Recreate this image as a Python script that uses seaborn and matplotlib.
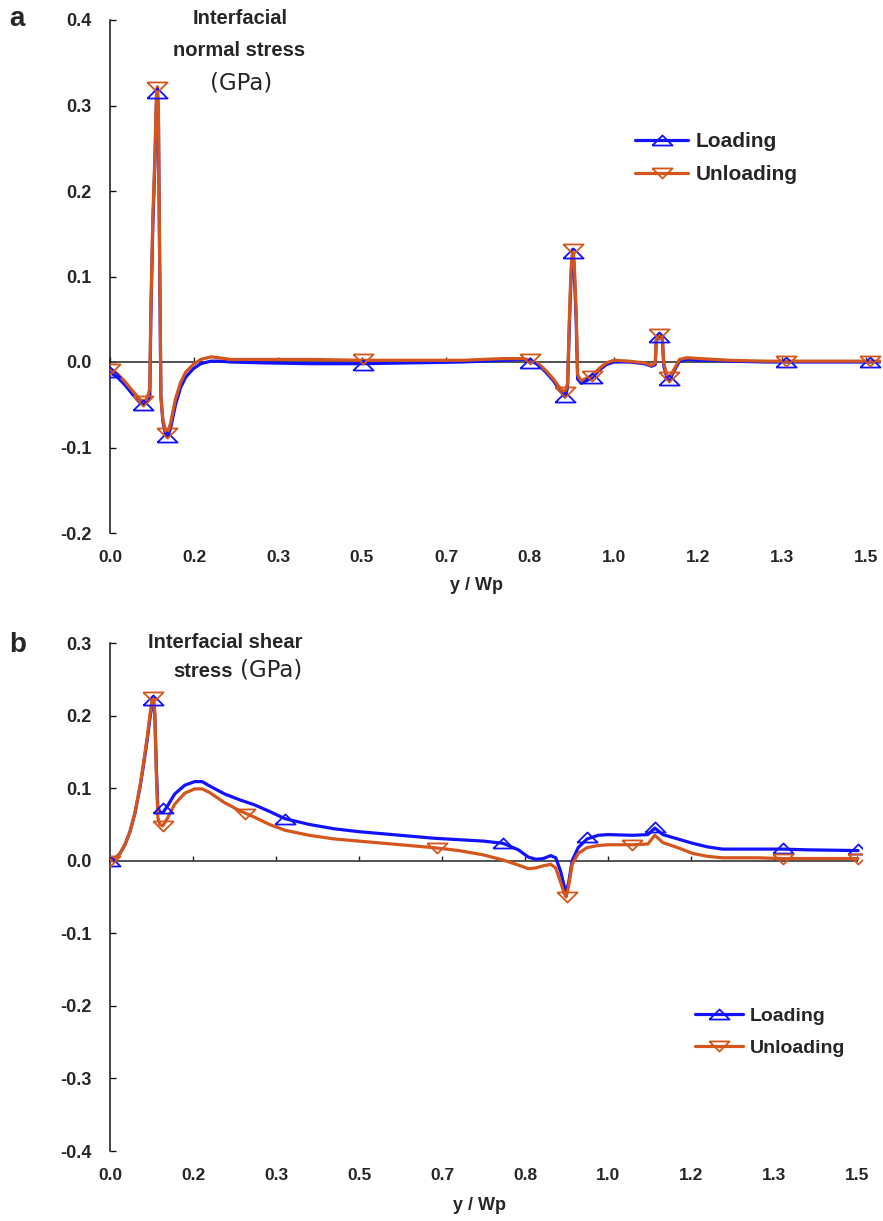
import matplotlib
matplotlib.use("Agg")
import matplotlib.pyplot as plt
import seaborn as sns
from matplotlib.lines import Line2D

# ---------------- Panel a: interfacial normal stress ----------------
a_x = [0.000, 0.015, 0.030, 0.045, 0.060, 0.066, 0.072, 0.077, 0.079, 0.081,
       0.085, 0.089, 0.092, 0.094, 0.096, 0.098, 0.101, 0.105, 0.110, 0.114,
       0.120, 0.130, 0.140, 0.150, 0.165, 0.180, 0.200, 0.215, 0.240, 0.300,
       0.400, 0.500, 0.600, 0.700, 0.780, 0.820, 0.835, 0.850, 0.865, 0.880,
       0.895, 0.903, 0.908, 0.912, 0.915, 0.918, 0.921, 0.925, 0.928, 0.935,
       0.945, 0.956, 0.970, 0.985, 1.000, 1.030, 1.060, 1.075, 1.082, 1.084,
       1.090, 1.096, 1.099, 1.105, 1.110, 1.120, 1.130, 1.145, 1.170, 1.200,
       1.230, 1.300, 1.400, 1.510, 1.528]
a_load = [-0.012, -0.018, -0.027, -0.038, -0.048, -0.050, -0.048, -0.044, -0.040, 0.050,
          0.160, 0.230, 0.300, 0.315, 0.290, 0.150, -0.040, -0.070, -0.084, -0.088,
          -0.078, -0.050, -0.030, -0.018, -0.008, -0.002, 0.001, 0.001, 0.000, -0.001,
          -0.002, -0.002, -0.001, 0.000, 0.002, 0.003, 0.001, -0.003, -0.012, -0.022,
          -0.035, -0.041, -0.030, 0.050, 0.100, 0.127, 0.110, 0.050, -0.020, -0.025,
          -0.022, -0.019, -0.010, -0.003, 0.000, 0.000, -0.002, -0.005, -0.003, 0.025,
          0.029, 0.027, -0.005, -0.018, -0.021, -0.010, 0.001, 0.003, 0.002, 0.002,
          0.001, 0.000, 0.000, 0.000, 0.000]
a_unload = [-0.008, -0.014, -0.023, -0.034, -0.044, -0.046, -0.044, -0.036, -0.030, 0.060,
            0.170, 0.240, 0.310, 0.322, 0.300, 0.160, -0.040, -0.068, -0.080, -0.083,
            -0.072, -0.043, -0.024, -0.012, -0.003, 0.003, 0.006, 0.005, 0.003, 0.003,
            0.003, 0.002, 0.002, 0.002, 0.004, 0.004, 0.002, -0.002, -0.010, -0.020,
            -0.032, -0.035, -0.025, 0.060, 0.110, 0.132, 0.120, 0.060, -0.015, -0.022,
            -0.019, -0.016, -0.008, -0.001, 0.002, 0.001, -0.001, -0.004, -0.001, 0.028,
            0.033, 0.030, -0.002, -0.015, -0.018, -0.008, 0.003, 0.005, 0.004, 0.003,
            0.002, 0.001, 0.001, 0.001, 0.001]
a_mark_x = [0.000, 0.066, 0.094, 0.114, 0.502, 0.833, 0.903, 0.918, 0.956, 1.090,
            1.110, 1.341, 1.508]
a_mark_load = [-0.012, -0.050, 0.315, -0.088, -0.003, -0.001, -0.041, 0.127, -0.019, 0.029,
               -0.021, 0.000, 0.000]
a_mark_unload = [-0.008, -0.046, 0.322, -0.083, 0.003, 0.004, -0.035, 0.132, -0.016, 0.033,
                 -0.017, 0.001, 0.001]

# ---------------- Panel b: interfacial shear stress ----------------
b_x = [0.000, 0.010, 0.020, 0.030, 0.040, 0.050, 0.060, 0.068, 0.075, 0.080,
       0.084, 0.087, 0.090, 0.093, 0.096, 0.100, 0.106, 0.115, 0.130, 0.150,
       0.170, 0.185, 0.200, 0.230, 0.260, 0.290, 0.320, 0.351, 0.400, 0.450,
       0.500, 0.550, 0.600, 0.650, 0.700, 0.750, 0.789, 0.820, 0.840, 0.855,
       0.870, 0.885, 0.895, 0.905, 0.912, 0.916, 0.921, 0.928, 0.940, 0.958,
       0.980, 1.000, 1.050, 1.080, 1.094, 1.110, 1.140, 1.170, 1.200, 1.230,
       1.300, 1.351, 1.400, 1.502]
b_load = [0.000, 0.003, 0.010, 0.022, 0.040, 0.065, 0.100, 0.135, 0.168, 0.195,
          0.215, 0.222, 0.200, 0.130, 0.075, 0.067, 0.066, 0.075, 0.092, 0.104,
          0.109, 0.109, 0.103, 0.092, 0.084, 0.077, 0.068, 0.058, 0.050, 0.044,
          0.040, 0.037, 0.034, 0.031, 0.029, 0.027, 0.024, 0.015, 0.005, 0.002,
          0.003, 0.007, 0.004, -0.015, -0.035, -0.043, -0.030, 0.000, 0.018, 0.030,
          0.035, 0.036, 0.035, 0.036, 0.045, 0.036, 0.030, 0.024, 0.019, 0.016,
          0.016, 0.016, 0.015, 0.014]
b_unload = [0.000, 0.003, 0.010, 0.022, 0.040, 0.066, 0.102, 0.138, 0.172, 0.200,
            0.220, 0.226, 0.205, 0.120, 0.060, 0.050, 0.048, 0.058, 0.078, 0.093,
            0.099, 0.099, 0.094, 0.080, 0.069, 0.060, 0.050, 0.042, 0.035, 0.030,
            0.027, 0.024, 0.021, 0.018, 0.014, 0.008, 0.001, -0.006, -0.011, -0.010,
            -0.007, -0.005, -0.010, -0.030, -0.045, -0.050, -0.035, -0.005, 0.010, 0.018,
            0.021, 0.022, 0.022, 0.023, 0.035, 0.025, 0.018, 0.010, 0.006, 0.004,
            0.004, 0.003, 0.003, 0.003]
b_mark_load_x = [0.000, 0.087, 0.106, 0.351, 0.789, 0.958, 1.094, 1.351, 1.502]
b_mark_load_y = [0.000, 0.222, 0.072, 0.058, 0.025, 0.032, 0.046, 0.018, 0.016]
b_mark_unload_x = [0.000, 0.087, 0.106, 0.272, 0.657, 0.917, 1.048, 1.351, 1.502]
b_mark_unload_y = [0.000, 0.226, 0.048, 0.064, 0.017, -0.050, 0.022, 0.003, 0.003]

# ---------------- ticks ----------------
x_ticks = [0.0, 0.1667, 0.3333, 0.5, 0.6667, 0.8333, 1.0, 1.1667, 1.3333, 1.5]
x_tick_labels = ["0.0", "0.2", "0.3", "0.5", "0.7", "0.8", "1.0", "1.2", "1.3", "1.5"]
a_y_ticks = [-0.2, -0.1, 0.0, 0.1, 0.2, 0.3, 0.4]
a_y_tick_labels = ["-0.2", "-0.1", "0.0", "0.1", "0.2", "0.3", "0.4"]
b_y_ticks = [-0.4, -0.3, -0.2, -0.1, 0.0, 0.1, 0.2, 0.3]
b_y_tick_labels = ["-0.4", "-0.3", "-0.2", "-0.1", "0.0", "0.1", "0.2", "0.3"]
series_names = ["Loading", "Unloading"]
x_label = "y / Wp"

# ---------------- style ----------------
sns.set_style("ticks")
plt.rcParams["font.family"] = ["Liberation Sans", "DejaVu Sans"]

BLUE = "#1212ff"
ORANGE = "#d4561c"
TRI_UP = [(-1, -0.5), (1, -0.5), (0, 0.5), (-1, -0.5)]
TRI_DN = [(-1, 0.5), (1, 0.5), (0, -0.5), (-1, 0.5)]
LW = 2.3
MS = 14.5

fig = plt.figure(figsize=(8.83, 12.21), dpi=100)
W, H = 883.0, 1221.0
axA = fig.add_axes([110 / W, 688 / H, 771 / W, 513 / H])
axB = fig.add_axes([110 / W, 70 / H, 752 / W, 508 / H])


def draw_panel(ax, x, yl, yu, mlx, mly, mux, muy):
    sns.lineplot(x=x, y=yl, ax=ax, color=BLUE, lw=LW, sort=False,
                 estimator=None, zorder=3)
    sns.lineplot(x=x, y=yu, ax=ax, color=ORANGE, lw=LW, sort=False,
                 estimator=None, zorder=4)
    ax.plot(mlx, mly, ls="none", marker=TRI_UP, ms=MS, mfc="none",
            mec=BLUE, mew=1.3, zorder=5)
    ax.plot(mux, muy, ls="none", marker=TRI_DN, ms=MS, mfc="none",
            mec=ORANGE, mew=1.3, zorder=6)


draw_panel(axA, a_x, a_load, a_unload, a_mark_x, a_mark_load, a_mark_x, a_mark_unload)
draw_panel(axB, b_x, b_load, b_unload, b_mark_load_x, b_mark_load_y,
           b_mark_unload_x, b_mark_unload_y)


def style_axes(ax, xmax, yticks, ylabels, ylim):
    ax.set_xlim(0, xmax)
    ax.set_ylim(*ylim)
    for s in ["top", "right"]:
        ax.spines[s].set_visible(False)
    ax.spines["left"].set_linewidth(1.1)
    ax.spines["left"].set_color("#111111")
    ax.spines["bottom"].set_position(("data", 0))
    ax.spines["bottom"].set_bounds(0, 1.5)
    ax.spines["bottom"].set_linewidth(1.3)
    ax.spines["bottom"].set_color("#444444")
    ax.spines["bottom"].set_zorder(2)
    ax.set_xticks(x_ticks)
    ax.set_xticklabels([])
    ax.tick_params(axis="x", direction="in", length=3.5, width=1.0,
                   color="#222222", labelbottom=False)
    ax.set_yticks(yticks)
    ax.set_yticklabels(ylabels)
    ax.tick_params(axis="y", direction="in", length=4.5, width=1.0,
                   color="#111111", pad=13, labelsize=13)
    for t in ax.get_yticklabels():
        t.set_fontweight("bold")
    ax.set_xlabel("")
    ax.set_ylabel("")
    sec = ax.secondary_xaxis("bottom")
    sec.set_xticks(x_ticks)
    sec.set_xticklabels(x_tick_labels)
    sec.spines["bottom"].set_visible(False)
    sec.tick_params(axis="x", length=0, pad=12, labelsize=12.5)
    for t in sec.get_xticklabels():
        t.set_fontweight("bold")
    ax.patch.set_alpha(0)
    return sec


secA = style_axes(axA, 1.53, a_y_ticks, a_y_tick_labels, (-0.2, 0.4))
secB = style_axes(axB, 1.51, b_y_ticks, b_y_tick_labels, (-0.4, 0.3))

fig.text(477 / W, 1 - 585 / H, x_label, ha="center", va="center",
         fontsize=13, fontweight="bold")
fig.text(480 / W, 1 - 1205 / H, x_label, ha="center", va="center",
         fontsize=13, fontweight="bold")

# legends
handles = [
    Line2D([], [], color=BLUE, lw=LW, marker=TRI_UP, ms=MS, mfc="none", mec=BLUE, mew=1.3),
    Line2D([], [], color=ORANGE, lw=LW, marker=TRI_DN, ms=MS, mfc="none", mec=ORANGE, mew=1.3),
]
legA = fig.legend(handles, series_names, loc="upper left",
                  bbox_to_anchor=(635 / W, 1 - 132 / H), frameon=False,
                  borderpad=0, borderaxespad=0, handlelength=2.55,
                  handletextpad=0.35, labelspacing=0.68,
                  prop={"family": "Liberation Sans", "weight": "bold", "size": 15})
legB = fig.legend(handles, series_names, loc="upper left",
                  bbox_to_anchor=(695 / W, 1 - 1007 / H), frameon=False,
                  borderpad=0, borderaxespad=0, handlelength=2.47,
                  handletextpad=0.36, labelspacing=0.75,
                  prop={"family": "Liberation Sans", "weight": "bold", "size": 14})

# annotations
bold = dict(fontsize=14.5, fontweight="bold", family="Liberation Sans")
reg = dict(fontsize=16.5, family="DejaVu Sans")
fig.text(240 / W, 1 - 18 / H, "Interfacial", ha="center", va="center", **bold)
fig.text(239 / W, 1 - 50 / H, "normal stress", ha="center", va="center", **bold)
fig.text(241 / W, 1 - 83 / H, "(GPa)", ha="center", va="center", **reg)
fig.text(225 / W, 1 - 643 / H, "Interfacial shear", ha="center", va="center", **bold)
fig.text(233 / W, 1 - 671 / H, "stress", ha="right", va="center", **bold)
fig.text(240 / W, 1 - 670 / H, "(GPa)", ha="left", va="center", **reg)

# panel letters
fig.text(17 / W, 1 - 19 / H, "a", ha="center", va="center", fontsize=20,
         fontweight="bold", family="Liberation Sans")
fig.text(18 / W, 1 - 645 / H, "b", ha="center", va="center", fontsize=20,
         fontweight="bold", family="Liberation Sans")

fig.savefig("out.png", dpi=100)
